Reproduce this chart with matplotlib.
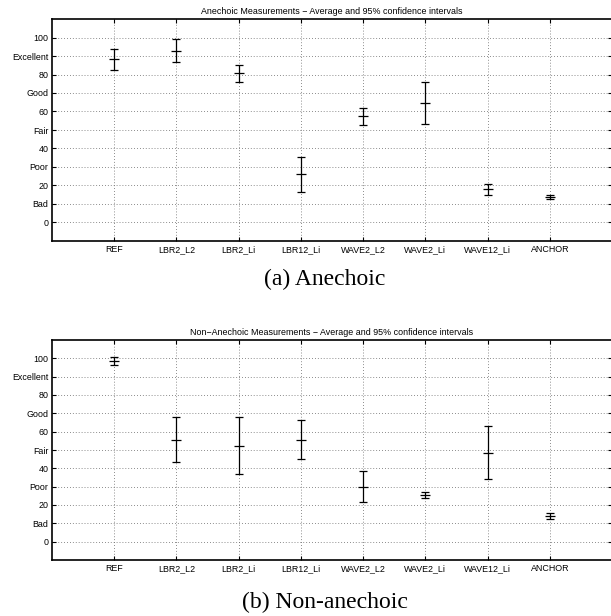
import numpy as np
import matplotlib
matplotlib.use("Agg")
import matplotlib.pyplot as plt

plt.rcParams['font.family'] = ['Liberation Sans', 'DejaVu Sans']

conditions = ["REF", "LBR2_L2", "LBR2_Li", "LBR12_Li", "WAVE2_L2", "WAVE2_Li", "WAVE12_Li", "ANCHOR"]

# anechoic: mean, lower and upper ends of the 95% interval
anech_mean = [88.2, 92.9, 80.8, 26.1, 57.4, 64.7, 18.1, 13.9]
anech_low = [82.4, 86.7, 76.2, 16.5, 52.5, 53.3, 14.8, 12.7]
anech_high = [94.0, 99.0, 85.3, 35.3, 61.8, 76.2, 21.0, 15.0]

# non-anechoic
nonan_mean = [98.4, 55.7, 52.4, 55.3, 30.0, 25.7, 48.6, 13.9]
nonan_low = [96.2, 43.4, 37.1, 45.0, 21.5, 24.0, 34.2, 12.3]
nonan_high = [100.7, 67.8, 67.8, 66.2, 38.5, 27.3, 63.3, 15.5]

ytick_vals = [0, 10, 20, 30, 40, 50, 60, 70, 80, 90, 100]
ytick_labels = ["0", "Bad", "20", "Poor", "40", "Fair", "60", "Good", "80", "Excellent", "100"]

titles = ["Anechoic Measurements \u2212 Average and 95% confidence intervals",
          "Non\u2212Anechoic Measurements \u2212 Average and 95% confidence intervals"]
captions = ["(a) Anechoic", "(b) Non-anechoic"]

W, H = 611, 616
fig = plt.figure(figsize=(W / 100, H / 100), dpi=100)


def px_axes(left, top, right, bottom):
    return fig.add_axes([left / W, 1 - bottom / H, (right - left) / W, (bottom - top) / H])


def draw(ax, mean, low, high, title):
    x = np.arange(1, len(conditions) + 1)
    mean = np.asarray(mean)
    err = [mean - np.asarray(low), np.asarray(high) - mean]
    ax.errorbar(x, mean, yerr=err, fmt='_', color='black', ecolor='black',
                elinewidth=0.9, capsize=2.6, capthick=0.9, markersize=6.5, mew=0.9)
    ax.set_xlim(0, 9)
    ax.set_ylim(-10, 110)
    ax.set_xticks(x)
    ax.set_xticklabels(conditions)
    ax.set_yticks(ytick_vals)
    ax.set_yticklabels(ytick_labels)
    ax.tick_params(direction='in', top=True, right=True, length=3, width=0.8,
                   labelsize=6.4, pad=2.5)
    # baseline alignment keeps labels with and without "_" on one line
    ax.tick_params(axis='x', pad=8)
    for lab in ax.get_xticklabels():
        lab.set_verticalalignment('baseline')
    ax.grid(True, linestyle=(0, (1, 2.5)), color='#666666', linewidth=0.6)
    ax.set_axisbelow(True)
    for s in ax.spines.values():
        s.set_linewidth(1.2)
    ax.set_title(title, fontsize=6.4, pad=3.5)


ax1 = px_axes(52, 19, 612, 241)
draw(ax1, anech_mean, anech_low, anech_high, titles[0])
ax2 = px_axes(52, 340, 612, 560)
draw(ax2, nonan_mean, nonan_low, nonan_high, titles[1])

fig.text(324.5 / W, 1 - 279 / H, captions[0], ha='center', va='center',
         fontsize=17, family='Liberation Serif')
fig.text(324.5 / W, 1 - 602 / H, captions[1], ha='center', va='center',
         fontsize=17, family='Liberation Serif')

fig.savefig("out.png", dpi=100)
